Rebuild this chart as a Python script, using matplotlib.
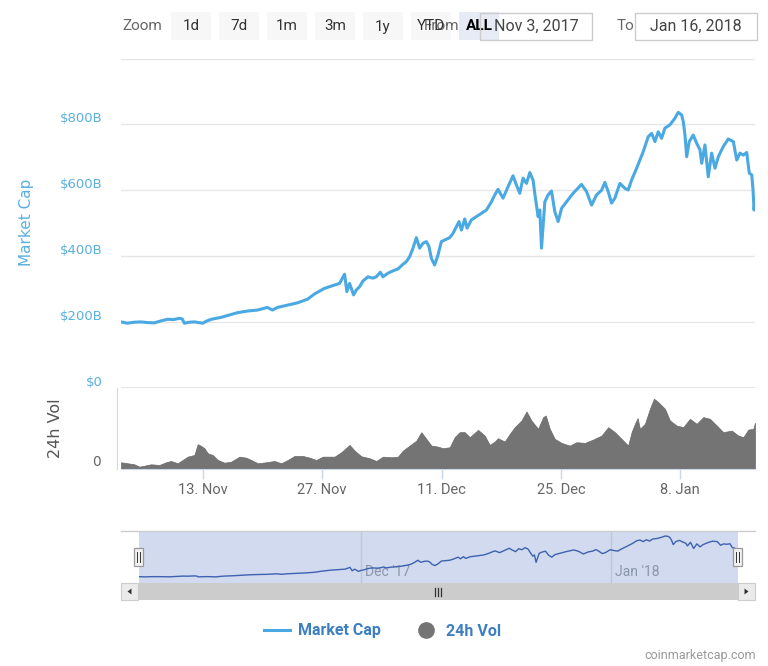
import numpy as np
import pandas as pd
import matplotlib
matplotlib.use('Agg')
import matplotlib.pyplot as plt
import matplotlib.dates as mdates
from matplotlib.patches import Rectangle, Polygon
from matplotlib.lines import Line2D
from matplotlib.transforms import ScaledTranslation, blended_transform_factory

# ---------------- data ----------------
start_date = '2017-11-03'
# market cap: days since start date, value in $B
cap_days = [0.42, 1.16, 2.0, 2.77, 3.5, 4.33, 5.1, 5.86, 6.6, 7.27, 7.6, 7.85, 8.4, 9.03,
            9.5, 10.0, 10.5, 11.02, 12.19, 13.13, 14.07, 15.25, 16.42, 17.59, 18.18, 18.77,
            19.94, 21.12, 22.29, 23.11, 24.28, 25.46,
            26.04, 26.63, 26.90, 27.22, 27.42, 27.69, 28.00, 28.39, 28.78, 29.37, 29.95, 30.35,
            30.82, 31.13, 31.71, 32.30, 32.89, 33.47, 33.87, 34.26, 34.65, 35.05, 35.43, 35.82,
            36.22, 36.53, 36.81, 37.19, 37.58, 37.98, 38.37, 38.96, 39.34, 39.74, 40.05, 40.33,
            40.72, 40.99, 41.50, 42.09, 42.68, 43.26, 43.85, 44.24,
            44.62, 45.21, 45.80, 46.38, 46.78, 47.17, 47.56, 47.96, 48.35, 48.73, 48.93, 49.32,
            49.52, 49.72, 50.11, 50.49, 50.89, 51.28, 51.67, 52.07, 52.65, 53.43, 54.41, 55.0,
            55.59, 56.17, 56.76, 57.15, 57.54, 57.93, 58.32, 58.91, 59.49, 59.88, 60.28, 60.87,
            61.64, 62.23, 62.63, 63.02, 63.40, 63.80, 64.19, 64.78, 65.36, 65.75, 66.15, 66.34,
            66.54, 66.74, 67.04, 67.51, 67.91, 68.30, 68.50, 68.88, 69.27, 69.67, 70.06, 70.45,
            71.03, 71.62, 72.21, 72.61, 72.99, 73.38, 73.78, 74.08, 74.37, 74.52, 74.64, 74.75]
cap_values = [200, 196, 199, 200, 198, 197, 203, 208, 207, 211, 209, 196, 199, 200,
              198, 196, 203, 208, 214, 221, 228, 233, 236, 244, 236, 244,
              251, 258, 269, 285, 302, 312,
              317, 345, 292, 317, 302, 282, 297, 307, 324, 337, 333, 337,
              351, 337, 348, 355, 361, 375, 383, 398, 424, 456, 424, 439,
              444, 429, 393, 373, 403, 444, 449, 456, 469, 489, 505, 479,
              513, 485, 510, 520, 530, 540, 565, 586,
              603, 576, 611, 644, 616, 591, 637, 621, 654, 631, 591, 520,
              540, 424, 565, 586, 598, 535, 505, 545, 565, 591, 618, 596,
              555, 586, 600, 624, 596, 561, 576, 621, 606, 601, 631, 667,
              717, 763, 773, 748, 778, 758, 789, 799, 819, 837, 829, 809,
              768, 702, 748, 768, 743, 723, 682, 738, 641, 713, 667, 702,
              733, 756, 748, 692, 713, 707, 715, 652, 647, 600, 540, 575]

# 24h volume: days since start date, value in $B
vol_days = [0.42, 1.20, 1.98, 2.57, 3.16, 3.94, 4.92, 5.70, 6.29, 7.07, 7.65, 8.24, 9.03,
            9.41, 9.81, 10.20, 10.59, 11.17, 11.76, 12.55, 13.33, 14.31, 15.09, 15.68, 16.46,
            17.44, 18.42, 19.20, 19.98, 20.76, 21.74, 22.52, 23.31, 24.08, 25.07, 25.46, 26.24,
            27.22, 27.81, 28.59, 29.57, 30.35, 31.13, 32.11, 32.89, 33.47, 34.26, 35.05, 35.63,
            36.22, 36.81, 37.58, 38.17, 38.96, 39.54, 40.13, 40.72, 41.30, 42.28, 43.06, 43.65,
            44.24, 44.62, 45.41, 46.00, 46.58, 47.37, 47.96, 48.54, 49.32, 49.91, 50.22, 50.69,
            51.28, 52.07, 53.04, 53.83, 54.80, 55.77, 56.76, 57.54, 58.32, 59.11, 59.88, 60.28,
            60.67, 60.99, 61.26, 61.84, 62.43, 62.90, 63.40, 64.19, 64.78, 65.56, 66.34, 67.12,
            67.91, 68.69, 69.47, 70.26, 71.03, 72.02, 72.79, 73.38, 73.97, 74.55, 74.75]
vol_values = [6.7, 5.7, 4.7, 2.3, 3.3, 4.7, 4.0, 6.7, 8.0, 5.7, 9.0, 12.3, 14.0,
              24.7, 23.0, 20.7, 15.7, 14.0, 9.0, 6.3, 7.3, 12.3, 11.3, 9.0, 5.7,
              6.7, 8.0, 5.7, 9.0, 13.0, 13.0, 11.3, 9.0, 12.3, 12.3, 12.3, 16.7,
              24.0, 18.3, 12.7, 10.7, 8.0, 12.3, 11.7, 12.3, 18.3, 23.3, 28.3, 36.7,
              30.0, 23.3, 22.3, 20.7, 21.7, 31.7, 36.7, 36.7, 31.7, 39.0, 33.3, 24.0,
              27.3, 30.7, 27.3, 35.0, 41.7, 48.3, 57.3, 48.3, 40.0, 51.7, 53.3, 40.0,
              30.0, 26.0, 23.3, 26.7, 26.0, 29.3, 33.3, 41.7, 36.7, 30.0, 23.3, 36.7,
              45.0, 50.7, 40.0, 45.0, 60.0, 70.0, 66.7, 60.0, 48.3, 43.3, 41.7, 50.0,
              45.0, 51.7, 50.0, 43.3, 36.7, 38.3, 33.3, 31.7, 39.3, 40.0, 46.0]

x_tick_dates = ['2017-11-13', '2017-11-27', '2017-12-11', '2017-12-25', '2018-01-08']
x_tick_labels = ['13. Nov', '27. Nov', '11. Dec', '25. Dec', '8. Jan']
cap_ticks = [0, 200, 400, 600, 800, 1000]
cap_tick_labels = ['$0', '$200B', '$400B', '$600B', '$800B', '']
nav_grid_dates = ['2017-12-01', '2018-01-01']
nav_grid_labels = ["Dec '17", "Jan '18"]
zoom_buttons = ['1d', '7d', '1m', '3m', '1y', 'YTD', 'ALL']
range_from = 'Nov 3, 2017'
range_to = 'Jan 16, 2018'

# ---------------- styles ----------------
CAP_C = '#4aa9e2'
LABEL_C = '#5aafe0'
VOL_C = '#747474'
NAV_LINE = '#3d62b0'
LEG_C = '#3d7fc1'
NARROW = ['Liberation Sans Narrow', 'Roboto', 'DejaVu Sans']
plt.rcParams['font.family'] = ['DejaVu Sans']

W, H = 768, 666
fig = plt.figure(figsize=(W / 100, H / 100), dpi=100)
fig.patch.set_facecolor('white')


def rect(l, t, r, b):
    return [l / W, 1 - b / H, (r - l) / W, (b - t) / H]


t0 = pd.Timestamp(start_date)
cap_x = mdates.date2num((t0 + pd.to_timedelta(cap_days, unit='D')).to_pydatetime())
vol_x = mdates.date2num((t0 + pd.to_timedelta(vol_days, unit='D')).to_pydatetime())
tick_x = mdates.date2num(pd.to_datetime(x_tick_dates).to_pydatetime())
nav_x = mdates.date2num(pd.to_datetime(nav_grid_dates).to_pydatetime())

up7 = ScaledTranslation(0, 7 / 100, fig.dpi_scale_trans)

# ---------------- main market cap pane ----------------
ax = fig.add_axes(rect(121, 58.7, 755, 387.7))
ax.plot(cap_x, cap_values, color=CAP_C, lw=2.2, solid_joinstyle='round', zorder=3)
ax.set_xlim(cap_x[0], cap_x[-1])
ax.set_ylim(0, 1000)
ax.set_yticks(cap_ticks)
ax.set_yticklabels(cap_tick_labels)
ax.grid(axis='y', color='#e6e6e6', lw=1)
for s in ax.spines.values():
    s.set_visible(False)
ax.tick_params(axis='y', length=0, pad=13, labelcolor=LABEL_C, labelsize=9.5)
ax.tick_params(axis='x', bottom=False, labelbottom=False)
for lab in ax.get_yticklabels():
    lab.set_transform(lab.get_transform() + up7)
ax.axhline(0, color='#e0e0e0', lw=2, zorder=1)

# ---------------- volume pane ----------------
axv = fig.add_axes(rect(121, 387.7, 755, 469))
axv.fill_between(vol_x, 0, vol_values, color=VOL_C, lw=0.5, edgecolor='#6a6a6a')
axv.set_xlim(cap_x[0], cap_x[-1])
axv.set_ylim(0, 81)
axv.set_yticks([])
vt = blended_transform_factory(axv.transAxes, axv.transData)
axv.text(-0.032, 0, '0', transform=vt + up7, ha='right', va='center',
         color='#666666', fontsize=10)
axv.set_xticks(tick_x)
axv.set_xticklabels(x_tick_labels, family=NARROW)
axv.tick_params(axis='x', length=7, width=1, color='#ccd6eb', labelcolor='#666666',
                labelsize=10.5, pad=3)
for k in ('top', 'right'):
    axv.spines[k].set_visible(False)
axv.spines['bottom'].set_color('#ccd6eb')
axv.spines['left'].set_color('#d8d8d8')
axv.spines['left'].set_position(('outward', 3))

fig.text(27 / W, 1 - 222 / H, 'Market Cap', rotation=90, color=LABEL_C, fontsize=11,
         ha='center', va='center')
fig.text(56 / W, 1 - 428 / H, '24h Vol', rotation=90, color='#555555', fontsize=11.5,
         ha='center', va='center')

# ---------------- navigator ----------------
axn = fig.add_axes(rect(138.7, 531, 737.8, 583))
axn.set_facecolor('#d1daee')
axn.plot(cap_x, cap_values, color=NAV_LINE, lw=1, zorder=3)
axn.set_xlim(cap_x[0], cap_x[-1])
axn.set_ylim(100, 915)
bt = blended_transform_factory(axn.transData, axn.transAxes)
for xv, lab in zip(nav_x, nav_grid_labels):
    axn.axvline(xv, color='#bfc7d9', lw=1, zorder=1)
    axn.text(xv, 0.21, lab, transform=bt + ScaledTranslation(4 / 100, 0, fig.dpi_scale_trans),
             ha='left', va='center', color='#8c96aa', fontsize=10, family=NARROW, zorder=2)
axn.set_xticks([])
axn.set_yticks([])
for s in axn.spines.values():
    s.set_visible(False)

# ---------------- UI overlay (zoom bar, scrollbar, legend) ----------------
ui = fig.add_axes([0, 0, 1, 1], zorder=10)
ui.set_xlim(0, W)
ui.set_ylim(H, 0)
ui.axis('off')

ui.text(122, 26, 'Zoom', ha='left', va='center', color='#666666', fontsize=11, family=NARROW)
for i, lab in enumerate(zoom_buttons):
    left = 171 + 48 * i
    sel = lab == 'ALL'
    ui.add_patch(Rectangle((left, 12), 40, 28, facecolor='#e6ebf5' if sel else '#f7f7f7',
                           edgecolor='none', zorder=1))
    ui.text(left + 20, 26.5, lab, ha='center', va='center', color='#000000' if sel else '#333333',
            fontsize=11, family=NARROW, fontweight='bold' if sel else 'normal', zorder=3)
ui.text(424, 26.5, 'From', ha='left', va='center', color='#666666', fontsize=11,
        family=NARROW, zorder=2)
ui.add_patch(Rectangle((480, 13), 112, 27, facecolor='none', edgecolor='#cccccc', lw=1, zorder=4))
ui.text(536, 26.5, range_from, ha='center', va='center', color='#444444', fontsize=11.5,
        family=NARROW, zorder=4)
ui.text(617, 26.5, 'To', ha='left', va='center', color='#666666', fontsize=11, family=NARROW)
ui.add_patch(Rectangle((635, 13), 122, 27, facecolor='none', edgecolor='#cccccc', lw=1))
ui.text(696, 26.5, range_to, ha='center', va='center', color='#444444', fontsize=11.5,
        family=NARROW)

# navigator outline
ui.plot([121, 755], [531, 531], color='#cccccc', lw=1)
# scrollbar
ui.add_patch(Rectangle((121, 583), 634, 17, facecolor='#f2f2f2', edgecolor='none'))
ui.add_patch(Rectangle((138.7, 583), 599.1, 17, facecolor='#cccccc', edgecolor='none'))
ui.add_patch(Rectangle((121, 583), 17, 17, facecolor='#ebebeb', edgecolor='#cccccc', lw=0.8))
ui.add_patch(Rectangle((738, 583), 17, 17, facecolor='#ebebeb', edgecolor='#cccccc', lw=0.8))
ui.add_patch(Polygon([[131.5, 588.5], [131.5, 594.5], [127.5, 591.5]], closed=True,
                     facecolor='#333333', edgecolor='none'))
ui.add_patch(Polygon([[744.5, 588.5], [744.5, 594.5], [748.5, 591.5]], closed=True,
                     facecolor='#333333', edgecolor='none'))
for dx in (-3, 0, 3):
    ui.plot([437.5 + dx, 437.5 + dx], [587.5, 595.5], color='#333333', lw=0.9)
# navigator handles
for hx in (138.7, 737.8):
    ui.add_patch(Rectangle((hx - 4.5, 547.5), 9, 18.5, facecolor='#f2f2f2',
                           edgecolor='#999999', lw=0.9, zorder=5))
    for dx in (-1.5, 1.5):
        ui.plot([hx + dx, hx + dx], [551.5, 562], color='#333333', lw=0.7, zorder=6)

# legend
handles = [Line2D([], [], color=CAP_C, lw=2.2),
           Line2D([], [], color=VOL_C, marker='o', ls='none', markersize=11)]
fig.legend(handles, ['Market Cap', '24h Vol'], loc='center',
           bbox_to_anchor=(383 / W, 1 - 631 / H), ncol=2, frameon=False,
           handlelength=1.6, handletextpad=0.5, columnspacing=2.0,
           prop={'weight': 'bold', 'size': 11.5, 'family': NARROW}, labelcolor=LEG_C)

fig.text(756 / W, 1 - 655 / H, 'coinmarketcap.com', ha='right', va='center',
         color='#999999', fontsize=9, family=NARROW)

fig.savefig('out.png', dpi=100)
